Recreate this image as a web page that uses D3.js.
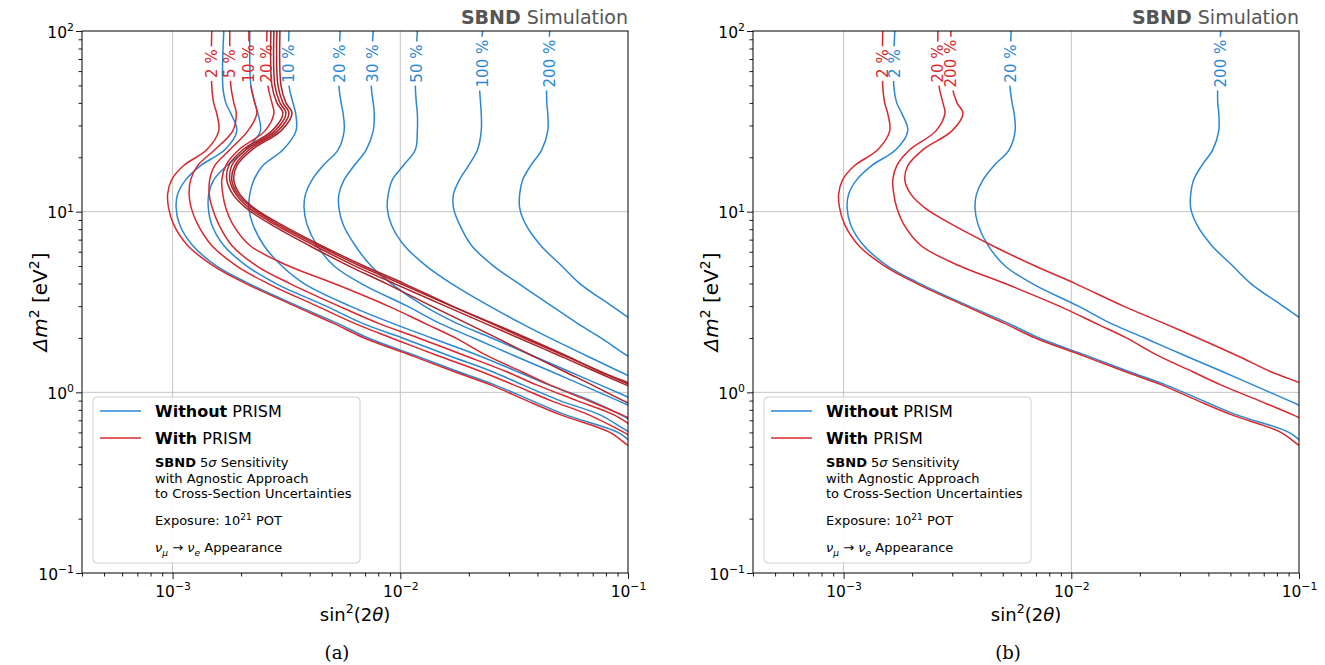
<!DOCTYPE html>
<html>
<head>
<meta charset="utf-8">
<script src="https://cdn.jsdelivr.net/npm/d3@7"></script>
<style>
body { margin: 0; background: #fff; }
svg { display: block; }
text { font-family: "DejaVu Sans", sans-serif; }
.cap { font-family: "DejaVu Serif", serif; }
</style>
</head>
<body>
<svg id="chart" width="1325" height="665"></svg>
<script>
// delta m^2 grid (eV^2) shared by all contours
var dm2 = [100, 50, 40, 35, 28, 22, 18, 15, 12.5, 10.5, 8.5, 6.5, 5, 4, 3, 2.4, 2, 1.6, 1.3, 1.1, 0.9, 0.75, 0.6, 0.5, 0.4];

// sin^2(2theta) along dm2, in units of 1e-3 -- without PRISM
var without2 = [1.678, 1.661, 1.712, 1.801, 1.914, 1.695, 1.328, 1.141, 1.052, 1.036, 1.073, 1.225, 1.562, 2.162, 3.554, 5.332, 7.228, 11.64, 18.01, 25.95, 37.8, 53.3, 90.3, 109.6, 150.0];
var without5 = [2.184, 2.206, 2.297, 2.368, 2.429, 2.097, 1.730, 1.516, 1.441, 1.435, 1.485, 1.678, 2.118, 2.843, 4.721, 6.871, 10.21, 16.28, 25.43, 34.47, 50.2, 75.3, 102.0, 135.6, 199.4];
var without10 = [3.243, 3.243, 3.378, 3.471, 3.483, 3.052, 2.492, 2.274, 2.184, 2.162, 2.251, 2.517, 3.021, 3.777, 6.021, 9.316, 13.70, 22.06, 32.76, 44.9, 68.7, 93.2, 127.6, 171.2, 254.3];
var without20 = [5.443, 5.374, 5.497, 5.609, 5.666, 5.332, 4.579, 4.095, 3.834, 3.777, 3.893, 4.309, 5.121, 6.733, 10.73, 15.00, 20.97, 31.46, 46.3, 62.7, 90.3, 125.0, 187.6, 254.3, 381.5];
var without30 = [7.605, 7.451, 7.605, 7.682, 7.605, 7.083, 6.272, 5.666, 5.374, 5.374, 5.609, 6.336, 7.451, 9.128, 12.76, 17.83, 25.17, 37.8, 55.5, 75.3, 108.4, 150.0, 229.7, 311.4, 467.3];
var without50 = [11.88, 11.64, 11.76, 11.88, 11.88, 11.64, 10.31, 9.221, 8.853, 8.764, 9.128, 10.41, 13.02, 16.78, 24.66, 34.12, 45.3, 65.3, 92.2, 122.5, 178.3, 241.7, 381.5, 517.3, 776];
var without100 = [22.97, 22.28, 22.51, 22.67, 22.67, 21.84, 19.94, 18.19, 17.12, 17.12, 18.19, 20.55, 25.69, 33.11, 46.3, 60.21, 76.1, 99.0, 131.5, 169.5, 241.7, 327.6, 517.3, 701, 1052];
var without200 = [45.3, 43.97, 43.97, 44.42, 44.42, 41.79, 37.38, 34.47, 33.44, 33.44, 35.54, 41.37, 51.21, 61.45, 85.0, 109.6, 131.5, 178.3, 241.7, 311.4, 444.2, 602, 951, 1289, 1933];

// with PRISM
var with2 = [1.485, 1.485, 1.515, 1.562, 1.594, 1.412, 1.118, 0.990, 0.951, 0.960, 1.010, 1.164, 1.515, 2.097, 3.447, 5.12, 6.94, 11.18, 17.30, 24.92, 35.9, 50.7, 83.3, 102, 145.5];
var with5 = [1.783, 1.801, 1.857, 1.904, 1.838, 1.531, 1.289, 1.200, 1.182, 1.207, 1.289, 1.485, 1.914, 2.621, 4.309, 6.336, 9.128, 14.55, 22.74, 31.46, 45.8, 67.3, 96.0, 125.0, 181.9];
var with10 = [2.162, 2.206, 2.297, 2.344, 2.140, 1.783, 1.531, 1.455, 1.448, 1.493, 1.594, 1.819, 2.344, 3.276, 5.374, 8.082, 12.00, 19.14, 29.31, 39.7, 59.6, 86.8, 115.3, 153.1, 229.7];
var with20 = [2.595, 2.621, 2.730, 2.785, 2.543, 1.953, 1.712, 1.644, 1.661, 1.712, 1.838, 2.184, 3.243, 5.121, 8.853, 12.89, 17.47, 23.93, 34.12, 45.3, 66.7, 94.1, 138.4, 187.6, 281.3];
var with30 = [2.702, 2.730, 2.871, 3.052, 2.730, 2.034, 1.765, 1.730, 1.838, 2.097, 2.702, 3.973, 5.957, 8.677, 13.70, 19.73, 26.48, 37.8, 52.8, 69.4, 95.1, 127.6, 187.6, 254.3, 381.5];
var with50 = [2.785, 2.813, 2.961, 3.146, 2.813, 2.097, 1.819, 1.783, 1.895, 2.162, 2.813, 4.179, 6.336, 9.410, 15.78, 23.68, 33.11, 49.7, 72.3, 98.0, 141.2, 197.3, 296.1, 401.3, 572];
var with100 = [2.871, 2.901, 3.052, 3.243, 2.901, 2.162, 1.876, 1.819, 1.933, 2.228, 2.901, 4.353, 6.665, 10.00, 16.78, 25.17, 34.83, 52.3, 76.1, 102.0, 147.0, 207.6, 311.4, 422.2, 633.6];
var with200 = [2.961, 2.991, 3.146, 3.344, 2.991, 2.228, 1.914, 1.857, 1.973, 2.274, 2.991, 4.488, 6.940, 10.41, 16.95, 25.69, 35.90, 53.3, 75.3, 106.3, 153.1, 218.4, 327.6, 444.2, 666.5];

var xMajor = [1e-3, 1e-2, 1e-1];
var yMajor = [1e-1, 1, 10, 100];

var BLUE = "#2b87d3", RED = "#d8282d", DARK = "#ad2229";
var W = 546, H = 542, TOP = 31;
var LABEL_DM2 = 66; // contour labels sit at this delta m^2

var panels = [
  { left: 82, cap: "(a)", curves: [
    { v: without2, c: BLUE }, { v: without5, c: BLUE },
    { v: without10, c: BLUE, lab: "10 %" }, { v: without20, c: BLUE, lab: "20 %" },
    { v: without30, c: BLUE, lab: "30 %" }, { v: without50, c: BLUE, lab: "50 %" },
    { v: without100, c: BLUE, lab: "100 %" }, { v: without200, c: BLUE, lab: "200 %" },
    { v: with2, c: RED, lab: "2 %" }, { v: with5, c: RED, lab: "5 %" },
    { v: with10, c: RED, lab: "10 %" }, { v: with20, c: RED, lab: "20 %" },
    { v: with30, c: DARK }, { v: with50, c: DARK },
    { v: with100, c: DARK }, { v: with200, c: DARK }
  ]},
  { left: 753, cap: "(b)", curves: [
    { v: without2, c: BLUE, lab: "2 %" }, { v: without20, c: BLUE, lab: "20 %" },
    { v: without200, c: BLUE, lab: "200 %" },
    { v: with2, c: RED, lab: "2 %" }, { v: with20, c: RED, lab: "20 %" },
    { v: with200, c: RED, lab: "200 %" }
  ]}
];

var x = d3.scaleLog().domain([4e-4, 0.1]).range([0, W]);
var y = d3.scaleLog().domain([0.1, 100]).range([H, 0]);

var line = d3.line()
  .x(function(d) { return x(d[0]); })
  .y(function(d) { return y(d[1]); })
  .curve(d3.curveCatmullRom.alpha(0.5));

function pts(vals) {
  return vals.map(function(v, i) { return [v * 1e-3, dm2[i]]; });
}

// text made of plain / bold / italic / sup / sub pieces
function rich(t, parts, size) {
  var shift = 0;
  parts.forEach(function(p) {
    var ts = t.append("tspan").text(p.t);
    var target = p.sup ? -0.42 * size : (p.sub ? 0.28 * size : 0);
    if (target !== shift) { ts.attr("dy", target - shift); shift = target; }
    if (p.sup || p.sub) ts.attr("font-size", size * 0.7);
    if (p.b) ts.attr("font-weight", "bold");
    if (p.i) ts.attr("font-style", "italic");
  });
}

function expo(v) { return String(Math.round(Math.log10(v))).replace("-", "\u2212"); }

var xMinor = [], yMinor = [];
for (var e = -4; e <= -2; e++) for (var m = 2; m <= 9; m++) {
  var v = m * Math.pow(10, e);
  if (v >= 3.99e-4 && v <= 0.1) xMinor.push(v);
}
for (var e2 = -1; e2 <= 1; e2++) for (var m2 = 2; m2 <= 9; m2++) yMinor.push(m2 * Math.pow(10, e2));

var svg = d3.select("#chart");

panels.forEach(function(P, pi) {
  var g = svg.append("g").attr("transform", "translate(" + P.left + "," + TOP + ")");
  var defs = g.append("defs");
  defs.append("clipPath").attr("id", "clip" + pi)
    .append("rect").attr("width", W).attr("height", H);

  // grid
  g.append("g").selectAll("line").data([1e-3, 1e-2]).enter().append("line")
    .attr("x1", function(d) { return x(d); }).attr("x2", function(d) { return x(d); })
    .attr("y1", 0).attr("y2", H)
    .attr("stroke", "#c4c4c4").attr("stroke-width", 1);
  g.append("g").selectAll("line").data([1, 10]).enter().append("line")
    .attr("y1", function(d) { return y(d); }).attr("y2", function(d) { return y(d); })
    .attr("x1", 0).attr("x2", W)
    .attr("stroke", "#c4c4c4").attr("stroke-width", 1);

  // contours
  var cg = g.append("g").attr("clip-path", "url(#clip" + pi + ")");
  var lg = g.append("g");
  P.curves.forEach(function(c, ci) {
    var path = cg.append("path").datum(pts(c.v))
      .attr("d", line).attr("fill", "none")
      .attr("stroke", c.c).attr("stroke-width", 1.5);
    if (!c.lab) return;
    var xc = x(c.v[0] * 1e-3), yc = y(LABEL_DM2);
    var t = lg.append("text")
      .attr("transform", "translate(" + xc + "," + yc + ") rotate(-90)")
      .attr("text-anchor", "middle").attr("dominant-baseline", "central")
      .attr("font-size", 15).attr("fill", c.c).text(c.lab);
    var len = t.node().getComputedTextLength();
    var id = "m" + pi + "_" + ci;
    var mk = defs.append("mask").attr("id", id).attr("maskUnits", "userSpaceOnUse")
      .attr("x", -20).attr("y", -20).attr("width", W + 40).attr("height", H + 40);
    mk.append("rect").attr("x", -20).attr("y", -20).attr("width", W + 40).attr("height", H + 40).attr("fill", "#fff");
    mk.append("rect").attr("x", xc - 9).attr("y", yc - len / 2 - 3)
      .attr("width", 18).attr("height", len + 6).attr("fill", "#000");
    path.attr("mask", "url(#" + id + ")");
  });

  // axes
  var ax = g.append("g").attr("transform", "translate(0," + H + ")")
    .call(d3.axisBottom(x).tickValues(xMajor).tickSize(6).tickFormat(function() { return ""; }));
  g.append("g").attr("transform", "translate(0," + H + ")")
    .call(d3.axisBottom(x).tickValues(xMinor).tickSize(3.5).tickFormat(function() { return ""; }));
  var ay = g.append("g")
    .call(d3.axisLeft(y).tickValues(yMajor).tickSize(6).tickFormat(function() { return ""; }));
  g.append("g")
    .call(d3.axisLeft(y).tickValues(yMinor).tickSize(3.5).tickFormat(function() { return ""; }));
  g.selectAll(".domain").remove();
  g.selectAll(".tick line").attr("stroke", "#000").attr("stroke-width", 0.9);

  ax.selectAll(".tick text").each(function(d) {
    var t = d3.select(this).attr("y", 24).attr("dy", null)
      .attr("font-size", 15.5).attr("fill", "#000").attr("text-anchor", "middle");
    rich(t, [{ t: "10" }, { t: expo(d), sup: true }], 15.5);
  });
  ay.selectAll(".tick text").each(function(d) {
    var t = d3.select(this).attr("x", -8).attr("dy", null).attr("y", 6)
      .attr("font-size", 15.5).attr("fill", "#000").attr("text-anchor", "end");
    rich(t, [{ t: "10" }, { t: expo(d), sup: true }], 15.5);
  });

  // frame
  g.append("rect").attr("width", W).attr("height", H)
    .attr("fill", "none").attr("stroke", "#000").attr("stroke-width", 1);

  // axis titles
  var xt = g.append("text").attr("x", W / 2).attr("y", H + 48)
    .attr("text-anchor", "middle").attr("font-size", 18);
  rich(xt, [{ t: "sin" }, { t: "2", sup: true }, { t: "(2" }, { t: "\u03b8", i: true }, { t: ")" }], 18);
  var yt = g.append("text").attr("transform", "translate(" + (-35) + "," + (H / 2) + ") rotate(-90)")
    .attr("text-anchor", "middle").attr("font-size", 20);
  rich(yt, [{ t: "\u0394m", i: true }, { t: "2", sup: true }, { t: " [eV" }, { t: "2", sup: true }, { t: "]" }], 20);

  // title
  var tt = g.append("text").attr("x", W).attr("y", -7)
    .attr("text-anchor", "end").attr("font-size", 19).attr("fill", "#555");
  rich(tt, [{ t: "SBND", b: true }, { t: " Simulation" }], 19);

  // legend
  var L = g.append("g").attr("transform", "translate(11,366)");
  L.append("rect").attr("width", 267).attr("height", 166).attr("rx", 4)
    .attr("fill", "#fff").attr("fill-opacity", 0.85).attr("stroke", "#d0d0d0");
  [[BLUE, "Without", 14], [RED, "With", 41]].forEach(function(r) {
    L.append("line").attr("x1", 7).attr("x2", 48).attr("y1", r[2]).attr("y2", r[2])
      .attr("stroke", r[0]).attr("stroke-width", 1.5);
    var t = L.append("text").attr("x", 62).attr("y", r[2] + 6).attr("font-size", 16);
    rich(t, [{ t: r[1], b: true }, { t: " PRISM" }], 16);
  });
  var s1 = L.append("text").attr("x", 62).attr("y", 70).attr("font-size", 13);
  rich(s1, [{ t: "SBND", b: true }, { t: " 5" }, { t: "\u03c3", i: true }, { t: " Sensitivity" }], 13);
  L.append("text").attr("x", 62).attr("y", 86).attr("font-size", 13).text("with Agnostic Approach");
  L.append("text").attr("x", 62).attr("y", 101).attr("font-size", 13).text("to Cross-Section Uncertainties");
  var s4 = L.append("text").attr("x", 62).attr("y", 128).attr("font-size", 13);
  rich(s4, [{ t: "Exposure: 10" }, { t: "21", sup: true }, { t: " POT" }], 13);
  var s5 = L.append("text").attr("x", 62).attr("y", 155).attr("font-size", 13);
  rich(s5, [{ t: "\u03bd", i: true }, { t: "\u03bc", sub: true, i: true }, { t: " \u2192 " },
            { t: "\u03bd", i: true }, { t: "e", sub: true, i: true }, { t: " Appearance" }], 13);

  // caption
  g.append("text").attr("class", "cap").attr("x", 255).attr("y", H + 86)
    .attr("text-anchor", "middle").attr("font-size", 18).text(P.cap);
});
</script>
</body>
</html>
